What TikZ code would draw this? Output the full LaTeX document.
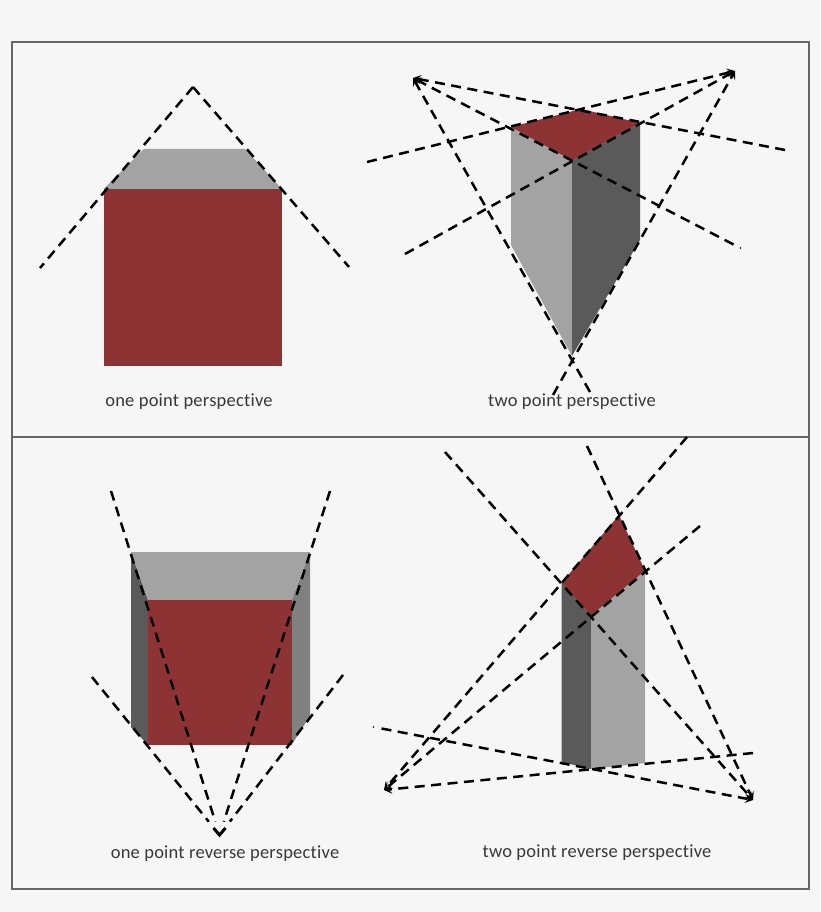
\documentclass[tikz,border=0pt]{standalone}
\usepackage{fontspec}
\setmainfont{Carlito}[LetterSpace=1.2,RawFeature=-liga]
\usetikzlibrary{arrows.meta}
\definecolor{bgc}{HTML}{F6F6F6}
\definecolor{redf}{HTML}{8E3333}
\definecolor{lightf}{HTML}{A3A3A3}
\definecolor{darkf}{HTML}{5A5A5A}
\definecolor{midf}{HTML}{808080}
\definecolor{framec}{HTML}{666666}
\definecolor{textc}{HTML}{383838}
\tikzset{
  face/.style={draw=none},
  plainguide/.style={black,line width=2.5pt,dash pattern=on 10pt off 6.5pt},
  guide/.style={plainguide,-{Stealth[length=8pt,width=9pt,inset=3.5pt]}},
  chevron/.style={black,line width=3pt,line join=miter},
  frameline/.style={draw=framec,line width=1.5pt},
  caption/.style={font=\fontsize{18.5}{20}\selectfont,text=textc,inner sep=0pt,anchor=base}
}
\begin{document}
\begin{tikzpicture}[x=1pt,y=-1pt]
\useasboundingbox (0,0) rectangle (820,912);
\fill[bgc] (0,0) rectangle (820,912);
\draw[frameline] (12,42) rectangle (809,437);
\draw[frameline] (12,437) rectangle (809,889);

% one point perspective
\coordinate (a1) at (193,87);
\coordinate (a1l) at (40,268);
\coordinate (a1r) at (349,267);
\fill[lightf,face] (144,149) -- (245,149) -- (282,189) -- (103.5,189) -- cycle;
\fill[redf,face] (103.5,189) rectangle (282,366);
\draw[plainguide] (a1) -- (a1l);
\draw[plainguide] (a1) -- (a1r);
\node[caption] (t1) at (189,406.5) {one point perspective};

% two point perspective
\coordinate (vl) at (413,78);
\coordinate (vr) at (735,71);
\coordinate (A) at (511,127);
\coordinate (B) at (581,109);
\coordinate (C) at (640,123);
\coordinate (D) at (572,160.5);
\coordinate (E) at (572,356);
\fill[lightf,face] (A) -- (D) -- (E) -- (511,245) -- cycle;
\fill[darkf,face] (D) -- (C) -- (640,240) -- (E) -- cycle;
\fill[redf,face] (A) -- (B) -- (C) -- (D) -- cycle;
\coordinate (p1) at (367,162);
\coordinate (p2) at (405,254);
\coordinate (p3) at (785,150);
\coordinate (p4) at (733.5,244.5);
\coordinate (p4d) at (740.5,248);
\coordinate (p5) at (553,395);
\coordinate (p6) at (590,392);
\draw[guide] (p1) -- (vr);
\draw[guide] (p2) -- (vr);
\draw[guide] (p5) -- (vr);
\draw[guide] (p3) -- (vl);
\draw[guide] (p4) -- (vl);
\draw[guide] (p6) -- (vl);
\fill (p4d) circle (0.8pt);
\node[caption] (t2) at (572,406.5) {two point perspective};

% one point reverse perspective
\coordinate (a3) at (219.5,835);
\coordinate (a3l) at (213.5,828);
\coordinate (a3r) at (225.5,828);
\coordinate (q1) at (111,491);
\coordinate (q2) at (330,491);
\coordinate (q3) at (92,677);
\coordinate (q4) at (343,675);
\fill[darkf,face] (131,552) -- (148,600) -- (148,745) -- (131,727) -- cycle;
\fill[midf,face] (310,552) -- (291.5,600) -- (291.5,745) -- (310,716) -- cycle;
\fill[lightf,face] (131,552) -- (310,552) -- (291.5,600) -- (148,600) -- cycle;
\fill[redf,face] (148,600) rectangle (291.5,745);
\draw[plainguide,shorten >=14pt] (q1) -- (a3);
\draw[plainguide,shorten >=14pt] (q2) -- (a3);
\draw[plainguide,shorten >=17pt] (q3) -- (a3);
\draw[plainguide,shorten >=17pt] (q4) -- (a3);
\draw[chevron] (a3l) -- (a3) -- (a3r);
\node[caption] (t3) at (225,858) {one point reverse perspective};

% two point reverse perspective
\coordinate (wl) at (384,790);
\coordinate (wr) at (753,800);
\coordinate (F) at (561.5,583);
\coordinate (G) at (619,515);
\coordinate (H) at (645,570.5);
\coordinate (J) at (591,615.5);
\coordinate (K) at (591,769);
\fill[darkf,face] (F) -- (J) -- (K) -- (561.5,762) -- cycle;
\fill[lightf,face] (J) -- (H) -- (645,763) -- (K) -- cycle;
\fill[redf,face] (F) -- (G) -- (H) -- (J) -- cycle;
\coordinate (r1) at (687,437);
\coordinate (r2) at (700,526);
\coordinate (r3) at (445,452);
\coordinate (r4) at (587,446);
\coordinate (r5) at (381.5,728.5);
\coordinate (r5d) at (373.5,727);
\coordinate (r6) at (753,753);
\draw[guide] (r1) -- (wl);
\draw[guide] (r2) -- (wl);
\draw[guide] (r6) -- (wl);
\draw[guide] (r3) -- (wr);
\draw[guide] (r4) -- (wr);
\draw[guide] (r5) -- (wr);
\fill (r5d) circle (0.8pt);
\node[caption] (t4) at (597,857) {two point reverse perspective};
\end{tikzpicture}
\end{document}
